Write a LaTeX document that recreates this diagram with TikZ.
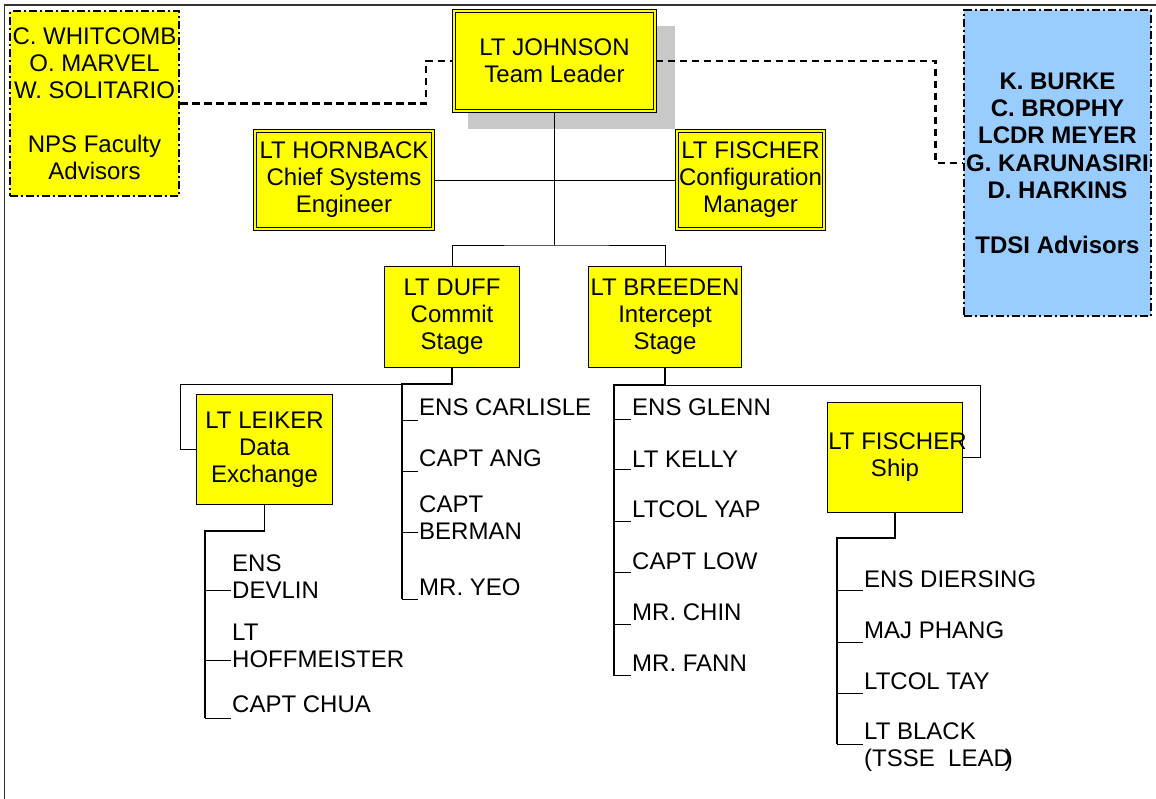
\documentclass[tikz,border=0pt]{standalone}
\usepackage{fontspec}
\setmainfont{Liberation Sans}
\definecolor{boxyellow}{RGB}{255,255,0}
\definecolor{tdsiblue}{RGB}{153,204,255}
\definecolor{shadowgray}{RGB}{200,200,200}
\begin{document}
\begin{tikzpicture}[x=1pt,y=-1pt,
  every node/.style={font=\fontsize{24}{27}\selectfont, align=center, inner sep=0pt},
  dbox/.style={draw=black, line width=0.9pt, double=boxyellow, double distance=2pt, fill=boxyellow},
  sbox/.style={draw=black, line width=0.9pt, fill=boxyellow},
  advbox/.style={draw=black, line width=2.2pt, dash pattern=on 8pt off 3pt on 2pt off 3pt},
  dconn/.style={draw=black, line width=2.2pt, dash pattern=on 7.5pt off 4.5pt},
  conn/.style={draw=black, line width=0.9pt},
  trunk/.style={draw=black, line width=1.6pt},
  lbl/.style={anchor=west, align=left}]
\useasboundingbox (0,0) rectangle (1156,799);
% frame
\draw[black!80, line width=1.3pt] (4.5,799) -- (4.5,5) -- (1156,5);
% shadow of team leader box
\fill[shadowgray] (468,26) rectangle (675,129);

% boxes
\node[advbox, fill=boxyellow, minimum width=168.8pt, minimum height=184.8pt] (fac) at (94.5,103.5)
  {\makebox[0pt]{C. WHITCOMB}\\O. MARVEL\\\makebox[0pt]{W. SOLITARIO}\\[27pt]NPS Faculty\\Advisors};
\node[advbox, fill=tdsiblue, minimum width=186.8pt, minimum height=305.8pt, font=\fontsize{24}{27.3}\selectfont\bfseries] (tdsi) at (1057.5,163)
  {K. BURKE\\C. BROPHY\\LCDR MEYER\\\makebox[0pt]{G. KARUNASIRI}\\D. HARKINS\\[27.3pt]TDSI Advisors};
\node[dbox, minimum width=201.2pt, minimum height=100.2pt] (john) at (554.5,61) {LT JOHNSON\\Team Leader};
\node[dbox, minimum width=178.2pt, minimum height=98.2pt] (horn) at (344,180) {LT HORNBACK\\Chief Systems\\Engineer};
\node[dbox, minimum width=147.2pt, minimum height=98.2pt] (fisc) at (750.5,180) {LT FISCHER\\Configuration\\Manager};
\node[sbox, minimum width=135.1pt, minimum height=101.1pt] (duff) at (452,317) {LT DUFF\\Commit\\Stage};
\node[sbox, minimum width=153.1pt, minimum height=101.1pt] (bree) at (665,317) {LT BREEDEN\\Intercept\\Stage};
\node[sbox, minimum width=136.1pt, minimum height=110.1pt] (leik) at (264.5,449.5) {LT LEIKER\\Data\\Exchange};
\node[sbox, minimum width=135.1pt, minimum height=110.1pt] (ship) at (895,457.5) {\makebox[0pt]{\hspace{5pt}LT FISCHER}\\Ship};

% advisor connectors
\draw[dconn] (fac.east) -- ++(246,0) |- (john.west);
\draw[dconn] (john.east) -- ++(280,0) |- (tdsi.west);

% top of org chart
\coordinate (jb) at (554.5,245);
\draw[conn] (john.south) -- (jb);
\draw[conn] (horn.east) -- (fisc.west);
\draw[conn] (duff.north) |- (jb) -| (bree.north);

% Duff branch
\draw[conn] (402,384) -- (180,384) |- (leik.west);
\draw[trunk] (duff.south) -- (452,384) -- (402,384) -- (402,599);
\foreach \y in {420,471,532,599} \draw[conn] (402,\y) -- (418,\y);
\node[lbl] (n1) at (419,407) {ENS CARLISLE};
\node[lbl] (n2) at (419,458) {CAPT ANG};
\node[lbl] (n3) at (419,517.5) {CAPT\\BERMAN};
\node[lbl] (n4) at (419,587) {MR. YEO};

% Leiker branch
\draw[trunk] (leik.south) -- (264.5,531) -- (205,531) -- (205,718);
\foreach \y in {590,660,718} \draw[conn] (205,\y) -- (231,\y);
\node[lbl] (l1) at (232,576.5) {ENS\\DEVLIN};
\node[lbl] (l2) at (232,646) {LT\\HOFFMEISTER};
\node[lbl] (l3) at (232,704) {CAPT CHUA};

% Breeden branch
\draw[conn] (665,385) -- (980,385) |- (ship.east);
\draw[trunk] (bree.south) -- (665,385) -- (614,385) -- (614,675.7);
\foreach \y in {419,469,521.7,572.7,624.3,675.7} \draw[conn] (614,\y) -- (631,\y);
\node[lbl] (b1) at (632,407) {ENS GLENN};
\node[lbl] (b2) at (632,459) {LT KELLY};
\node[lbl] (b3) at (632,509.5) {LTCOL YAP};
\node[lbl] (b4) at (632,561) {CAPT LOW};
\node[lbl] (b5) at (632,612) {MR. CHIN};
\node[lbl] (b6) at (632,663) {MR. FANN};

% Ship branch
\draw[trunk] (ship.south) -- (895,538) -- (837,538) -- (837,744);
\foreach \y in {590,642,693,744} \draw[conn] (837,\y) -- (863,\y);
\node[lbl] (s1) at (864,579) {ENS DIERSING};
\node[lbl] (s2) at (864,630) {MAJ PHANG};
\node[lbl] (s3) at (864,681) {LTCOL TAY};
\node[lbl] (s4) at (864,747) {LT BLACK\\(TSSE\ \ LEAD\kern-6pt)};
\end{tikzpicture}
\end{document}
